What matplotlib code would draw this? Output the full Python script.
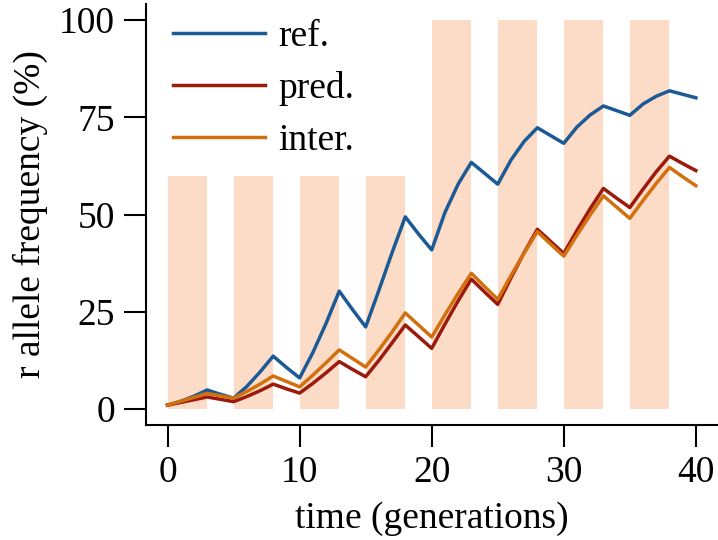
import matplotlib
matplotlib.use("Agg")
import matplotlib.pyplot as plt

# generations 0..40
gen = list(range(41))

ref = [1.0, 2.0, 3.3, 4.9, 3.8, 2.8, 5.8, 9.5, 13.6, 10.7, 8.0,
       14.5, 22.0, 30.3, 25.6, 21.1, 30.5, 40.2, 49.4, 45.0, 40.9,
       50.5, 57.8, 63.4, 60.6, 57.8, 64.0, 68.8, 72.3, 70.3, 68.3,
       72.5, 75.6, 77.9, 76.7, 75.5, 78.4, 80.4, 81.8, 80.9, 80.0]
pred = [1.0, 1.7, 2.4, 3.1, 2.5, 1.9, 3.2, 4.7, 6.4, 5.2, 4.1,
        6.6, 9.3, 12.2, 10.2, 8.3, 12.5, 17.0, 21.6, 18.6, 15.6,
        21.8, 27.8, 33.4, 30.1, 26.9, 33.7, 40.2, 46.2, 43.1, 40.0,
        45.9, 51.5, 56.7, 54.2, 51.8, 56.5, 61.0, 65.0, 63.1, 61.3]
inter = [1.0, 2.0, 3.0, 4.0, 3.4, 2.8, 4.5, 6.4, 8.5, 7.1, 5.7,
         8.7, 11.9, 15.2, 13.0, 10.8, 15.2, 19.8, 24.7, 21.6, 18.5,
         24.2, 29.7, 34.9, 31.5, 28.2, 34.3, 40.1, 45.6, 42.4, 39.3,
         44.7, 49.9, 54.8, 51.9, 49.0, 53.6, 58.0, 62.1, 59.7, 57.4]

# shaded treatment periods
shade_start = [0, 5, 10, 15, 20, 25, 30, 35]
shade_len = [3, 3, 3, 3, 3, 3, 3, 3]
shade_top = [60, 60, 60, 60, 100, 100, 100, 100]

plt.rcParams['font.family'] = ['Liberation Serif', 'DejaVu Serif']
plt.rcParams['font.size'] = 27

fig = plt.figure(figsize=(7.18, 5.40), dpi=100)
ax = fig.add_axes([0.2039, 0.2137, 0.7947, 0.7781])

ax.bar(shade_start, shade_top, width=shade_len, align='edge',
       color='#fddcc7', linewidth=0, zorder=1)

ax.plot(gen, ref, color='#1b5a94', lw=2.5, label='ref.', zorder=3)
ax.plot(gen, pred, color='#9c1a0c', lw=2.5, label='pred.', zorder=3)
ax.plot(gen, inter, color='#d2700f', lw=2.5, label='inter.', zorder=3)

ax.set_xlim(-1.6, 41.6)
ax.set_ylim(-4, 104)
ax.set_xticks([0, 10, 20, 30, 40])
ax.set_yticks([0, 25, 50, 75, 100])

for s in ['top', 'right']:
    ax.spines[s].set_visible(False)
for s in ['left', 'bottom']:
    ax.spines[s].set_linewidth(1.5)
ax.tick_params(length=15.5, width=1.5, labelsize=27)
ax.tick_params(axis='y', pad=7)
ax.tick_params(axis='x', pad=7)

ax.set_xlabel('time (generations)', fontsize=27, labelpad=8)
ax.set_ylabel('r allele frequency (%)', fontsize=27, labelpad=8)

ax.legend(loc='upper left', bbox_to_anchor=(173 / 718, 1 - 20 / 540),
          bbox_transform=fig.transFigure, frameon=False, borderpad=0,
          borderaxespad=0, handlelength=2.45, handletextpad=0.35,
          labelspacing=0.45, fontsize=27)

fig.savefig('out.png', dpi=100)
